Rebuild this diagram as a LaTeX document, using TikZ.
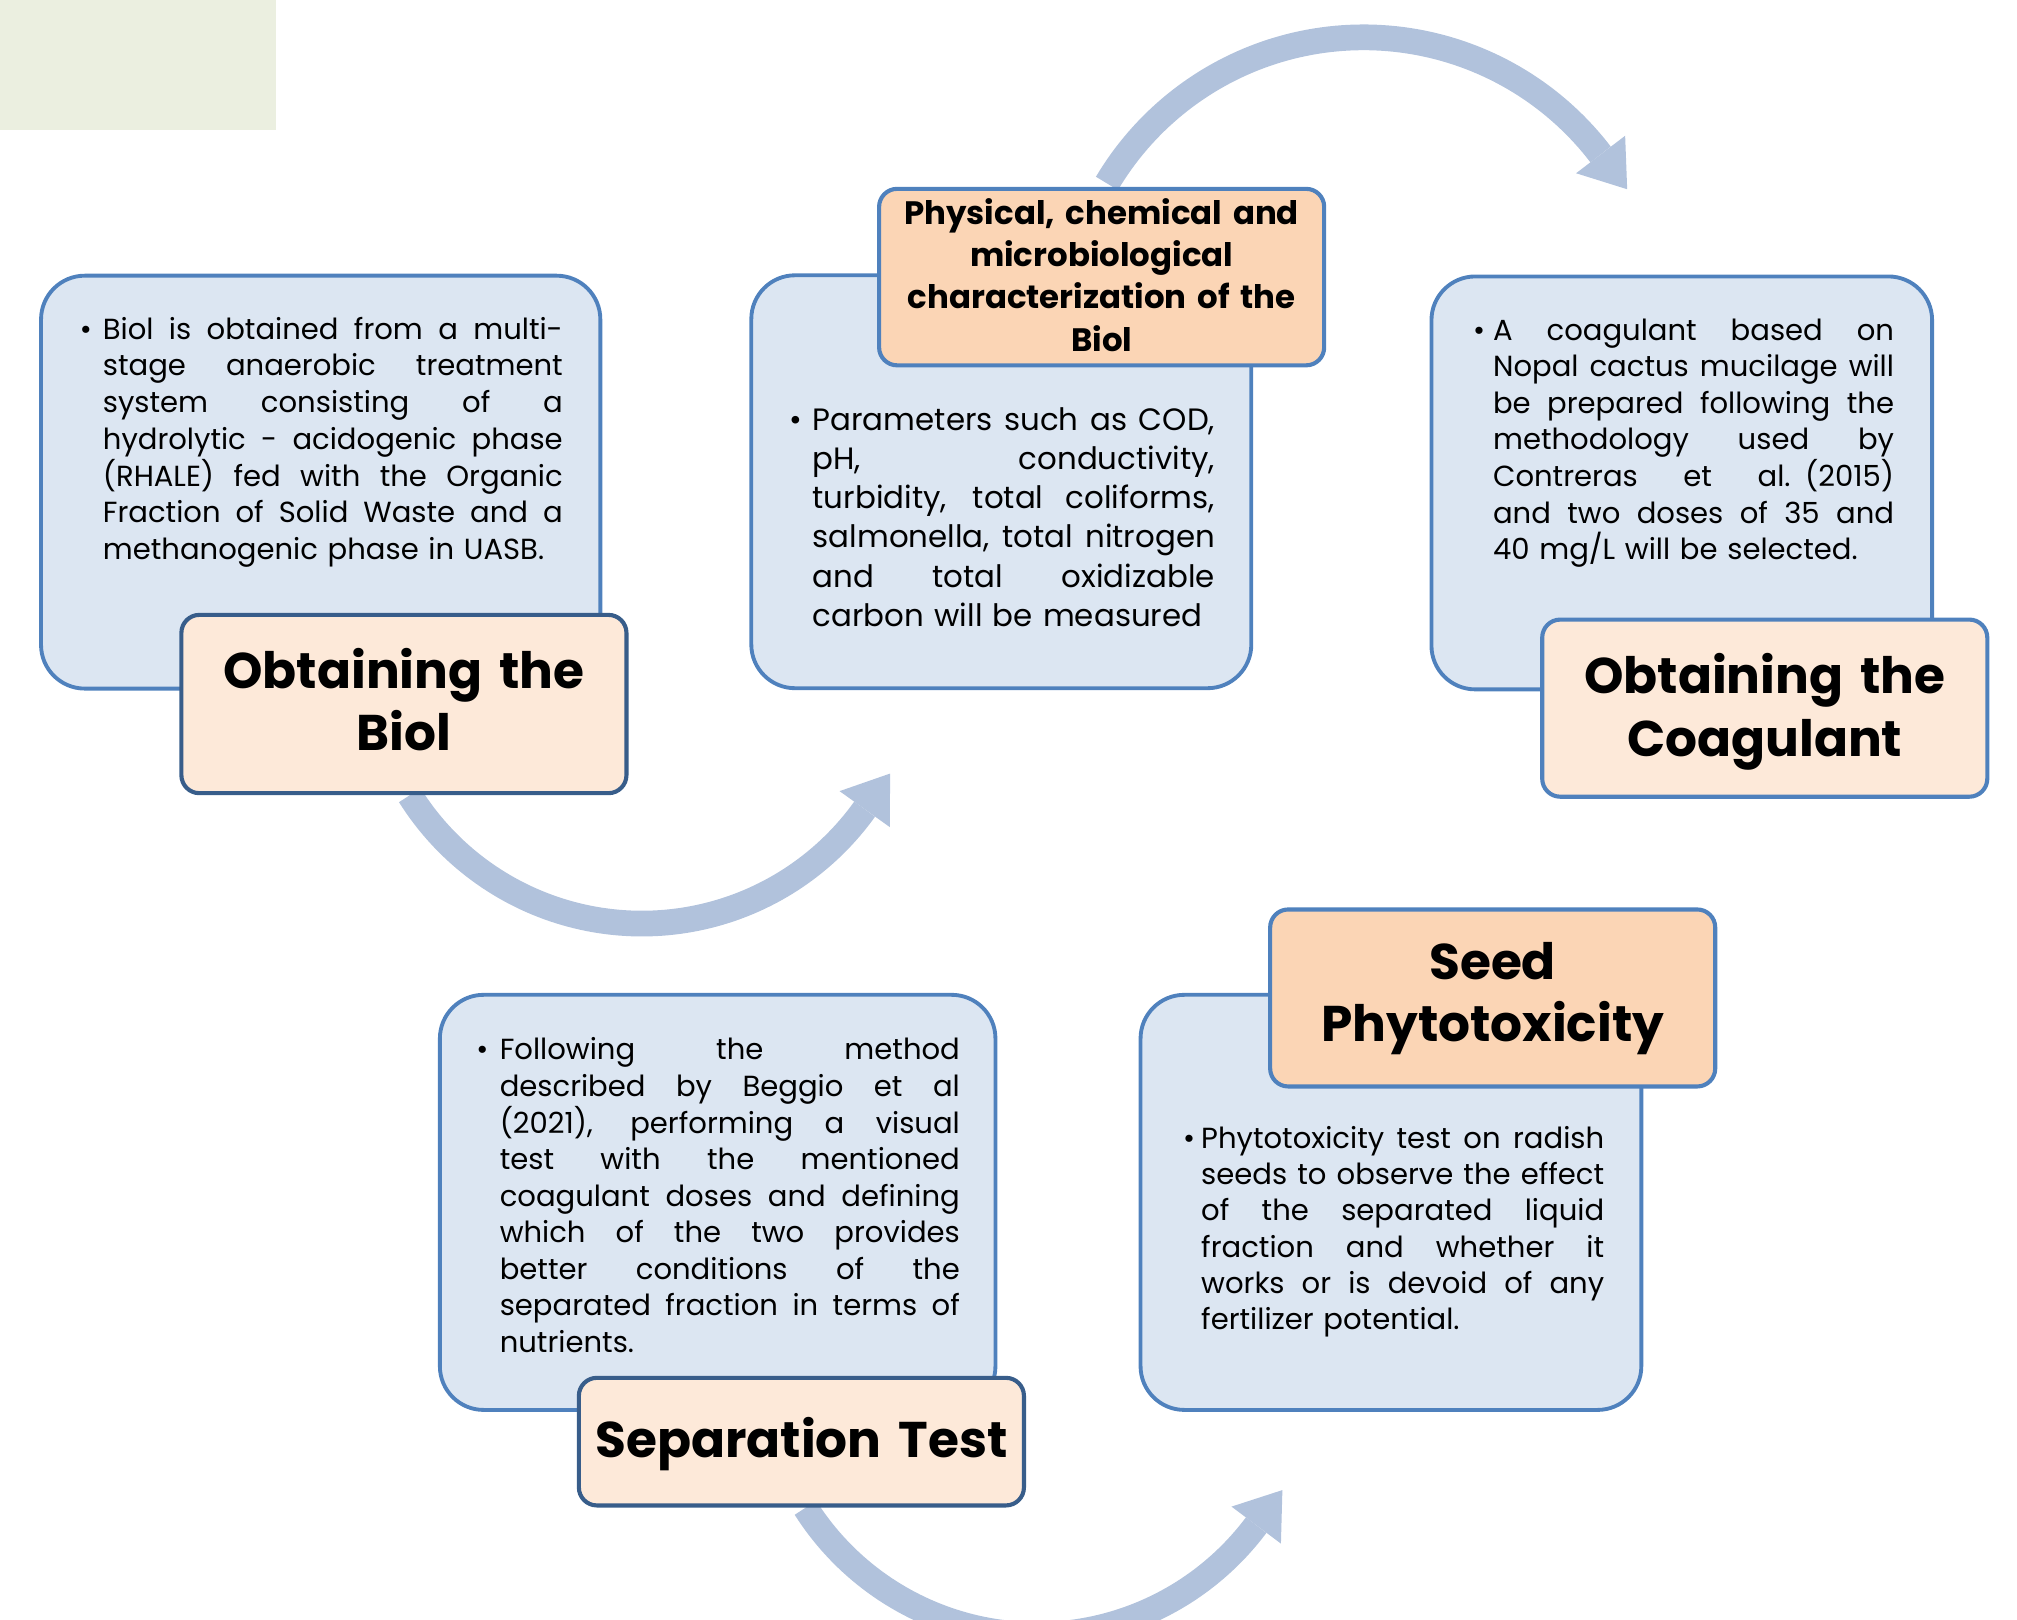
\documentclass[tikz,border=0pt]{standalone}
\usepackage{fontspec}
\setmainfont{Poppins}
\definecolor{bluefill}{HTML}{DCE6F2}
\definecolor{blueborder}{HTML}{4F81BD}
\definecolor{darkborder}{HTML}{385D8A}
\definecolor{peachlight}{HTML}{FDE9D9}
\definecolor{peachstrong}{HTML}{FBD5B5}
\definecolor{arrowblue}{HTML}{B1C2DC}
\definecolor{greenpatch}{HTML}{EBEFE0}
\newcommand{\jl}[1]{\leavevmode\hbox to\hsize{\spaceskip=\fontdimen2\font plus 1fil\relax #1}\\}
\newcommand{\cyclearrow}[6]{%
  \coordinate (#1) at (#2,#3);
  \pgfmathsetmacro{\arS}{ifthenelse(#6>#5,1,-1)}
  \pgfmathsetmacro{\arLo}{min(#5,#6)}
  \pgfmathsetmacro{\arHi}{max(#5,#6)}
  \draw[arrowshaft] plot[variable=\ang, domain=\arLo:\arHi, samples=90] ({#2+#4*cos(\ang)},{#3+#4*sin(\ang)});
  \pgfmathsetmacro{\arBx}{#2+#4*cos(#6)}
  \pgfmathsetmacro{\arBy}{#3+#4*sin(#6)}
  \pgfmathsetmacro{\arTx}{\arBx-34*\arS*sin(#6)}
  \pgfmathsetmacro{\arTy}{\arBy+34*\arS*cos(#6)}
  \fill[arrowblue] (\arTx,\arTy) -- ({\arBx+24*cos(#6)},{\arBy+24*sin(#6)}) -- ({\arBx-24*cos(#6)},{\arBy-24*sin(#6)}) -- cycle;
}
\tikzset{
  infobox/.style={draw=blueborder, fill=bluefill, line width=3pt, rounded corners=34pt, inner sep=0pt, minimum height=321pt},
  titlebox/.style={line width=3.2pt, rounded corners=14pt, inner sep=0pt, minimum width=346pt},
  lighttitle/.style={titlebox, fill=peachlight},
  strongtitle/.style={titlebox, fill=peachstrong, draw=blueborder},
  bodytext/.style={anchor=base west, inner sep=0pt, align=left},
  bulletmark/.style={anchor=base west, inner sep=0pt},
  headtext/.style={anchor=base, inner sep=0pt, align=center, text width=346pt},
  arrowshaft/.style={draw=arrowblue, line width=20pt}
}
\begin{document}
\begin{tikzpicture}[x=1pt,y=-1pt]
\useasboundingbox (0,0) rectangle (1568,1259);
\fill[greenpatch] (0,0) rectangle (214.5,101.2);

% circular arrows
\cyclearrow{arrowA}{499}{505}{213}{147.9}{35.6}
\cyclearrow{arrowB}{1060}{261}{232}{210.7}{322.6}
\cyclearrow{arrowC}{806}{1058}{213}{147.6}{36.8}

% information boxes
\node[infobox, minimum width=434.8pt] (box1) at (249.3,374.8) {};
\node[infobox, minimum width=388.7pt] (box2) at (778.4,374.5) {};
\node[infobox, minimum width=389.2pt] (box3) at (1307.4,375.4) {};
\node[infobox, minimum width=431.9pt, minimum height=322.7pt] (box4) at (557.9,934.7) {};
\node[infobox, minimum width=389.3pt, minimum height=322.7pt] (box5) at (1081.3,934.7) {};

% title boxes
\node[lighttitle, draw=darkborder, minimum height=138.6pt] (title1) at (314,547.3) {};
\node[strongtitle, minimum height=137.2pt] (title2) at (856.4,215.4) {};
\node[lighttitle, draw=blueborder, minimum height=137.7pt] (title3) at (1371.9,550.5) {};
\node[lighttitle, draw=darkborder, minimum height=99.2pt] (title4) at (623,1120.7) {};
\node[strongtitle, minimum height=137.6pt] (title5) at (1160.4,775.8) {};

% title texts
\node[headtext, font=\bfseries\fontsize{39}{48.4}\selectfont] (title1text) at (314,535.4) {Obtaining the\\Biol};
\node[headtext, font=\bfseries\fontsize{25.2}{32.8}\selectfont] (title2text) at (856.4,174.5) {Physical, chemical and\\microbiological\\characterization of the\\Biol};
\node[headtext, font=\bfseries\fontsize{39}{48.4}\selectfont] (title3text) at (1371.9,539.3) {Obtaining the\\Coagulant};
\node[headtext, font=\bfseries\fontsize{39}{48.4}\selectfont] (title4text) at (623,1133.2) {Separation Test};
\node[headtext, font=\bfseries\fontsize{39}{48.4}\selectfont] (title5text) at (1160.4,761.4) {Seed\\Phytotoxicity};

% body texts
\node[bulletmark, font=\fontsize{22.6}{28.55}\selectfont] (bul1) at (61.8,263.7) {•};
\node[bodytext, text width=357.5pt, font=\fontsize{22.6}{28.55}\selectfont] (body1) at (79.8,263.7)
{\jl{Biol is obtained from a multi-}\jl{stage anaerobic treatment}\jl{system consisting of a}\jl{hydrolytic - acidogenic phase}\jl{(RHALE) fed with the Organic}\jl{Fraction of Solid Waste and a}methanogenic phase in UASB.};

\node[bulletmark, font=\fontsize{24}{30.54}\selectfont] (bul2) at (613.6,334.3) {•};
\node[bodytext, text width=312.7pt, font=\fontsize{24}{30.54}\selectfont] (body2) at (631.6,334.3)
{\jl{Parameters such as COD,}\jl{pH, conductivity,}\jl{turbidity, total coliforms,}\jl{salmonella, total nitrogen}\jl{and total oxidizable}carbon will be measured};

\node[bulletmark, font=\fontsize{22.6}{28.4}\selectfont] (bul3) at (1145,264.6) {•};
\node[bodytext, text width=311.7pt, font=\fontsize{22.6}{28.4}\selectfont] (body3) at (1160.5,264.6)
{\jl{A coagulant based on}\jl{Nopal cactus mucilage will}\jl{be prepared following the}\jl{methodology used by}\jl{Contreras et al. (2015)}\jl{and two doses of 35 and}40 mg/L will be selected.};

\node[bulletmark, font=\fontsize{22.6}{28.4}\selectfont] (bul4) at (370.2,824) {•};
\node[bodytext, text width=357.7pt, font=\fontsize{22.6}{28.4}\selectfont] (body4) at (388.3,824)
{\jl{Following the method}\jl{described by Beggio et al}\jl{(2021), performing a visual}\jl{test with the mentioned}\jl{coagulant doses and defining}\jl{which of the two provides}\jl{better conditions of the}\jl{separated fraction in terms of}nutrients.};

\node[bulletmark, font=\fontsize{22.6}{28.2}\selectfont] (bul5) at (919.5,892.7) {•};
\node[bodytext, text width=313.3pt, font=\fontsize{22.6}{28.2}\selectfont] (body5) at (933.6,892.7)
{\jl{Phytotoxicity test on radish}\jl{seeds to observe the effect}\jl{of the separated liquid}\jl{fraction and whether it}\jl{works or is devoid of any}fertilizer potential.};
\end{tikzpicture}
\end{document}
